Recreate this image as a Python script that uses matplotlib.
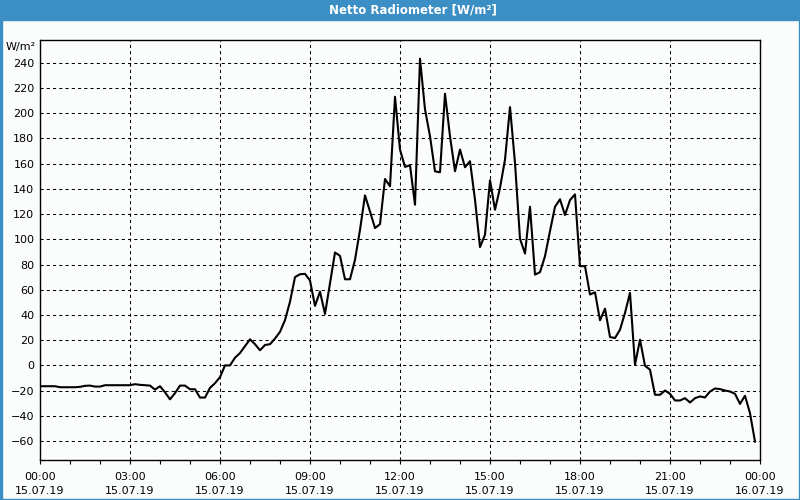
import numpy as np
import pandas as pd
import matplotlib
matplotlib.use("Agg")
import matplotlib.pyplot as plt
import matplotlib.dates as mdates
from matplotlib.patches import Rectangle

# Messwerte alle 10 Minuten, 15.07.2019 00:00 - 23:50
zeiten = pd.date_range("2019-07-15 00:00", periods=144, freq="10min")
werte = [
    -16.5, -16.5, -16.5, -16.5, -17.3, -17.3, -17.3, -17.3, -17.0, -16.2,
    -16.0, -16.8, -16.8, -15.7, -15.7, -15.7, -15.7, -15.7, -15.7, -14.9,
    -15.4, -15.7, -16.0, -19.2, -16.5, -21.3, -26.9, -22.0, -16.0, -16.0,
    -18.9, -18.9, -25.5, -25.5, -17.8, -14.1, -9.3, 0.0, 0.0, 6.1,
    9.8, 15.2, 20.7, 16.8, 12.0, 16.2, 16.8, 21.3, 26.6, 35.9,
    50.5, 70.0, 72.3, 72.6, 67.3, 47.2, 58.5, 40.8, 65.0, 89.5,
    86.9, 68.3, 68.3, 83.7, 107.5, 134.8, 122.0, 108.9, 112.0, 147.8,
    142.0, 213.0, 171.1, 157.4, 158.7, 127.4, 243.2, 203.0, 181.7, 153.9,
    153.1, 215.4, 181.7, 153.9, 171.1, 157.1, 161.9, 131.4, 93.8, 103.6,
    146.8, 123.4, 140.7, 163.2, 204.8, 160.5, 100.4, 88.7, 125.8, 72.0,
    73.9, 86.6, 106.5, 125.8, 131.7, 119.2, 131.1, 135.6, 78.7, 78.7,
    56.2, 58.0, 35.8, 45.0, 22.5, 21.7, 28.3, 41.6, 57.5, 0.5,
    20.4, -0.3, -3.4, -23.3, -23.3, -19.9, -22.5, -27.8, -27.8, -26.0,
    -29.4, -26.0, -24.6, -25.4, -20.7, -18.3, -18.8, -19.9, -20.7, -22.5,
    -30.5, -24.1, -37.9, -60.4,
]
y_ticks = list(range(-60, 241, 20))
titel = "Netto Radiometer [W/m²]"
einheit = "W/m²"

plt.rcParams['font.family'] = ['DejaVu Sans']
hintergrund = '#fafdfc'
blau = '#3b8fc4'

fig = plt.figure(figsize=(8, 5), dpi=100, facecolor=hintergrund)
ax = fig.add_axes([0.05, 0.08, 0.9, 0.84])
ax.set_facecolor(hintergrund)

ax.plot(zeiten, werte, color='black', linewidth=1.5)

ax.set_xlim(pd.Timestamp("2019-07-15 00:00"), pd.Timestamp("2019-07-16 00:00"))
ax.set_ylim(-75, 258)
ax.set_yticks(y_ticks)

ax.xaxis.set_major_locator(mdates.HourLocator(byhour=range(0, 24, 3)))
ax.xaxis.set_minor_locator(mdates.HourLocator())
ax.xaxis.set_major_formatter(mdates.DateFormatter("%H:%M\n%d.%m.%y"))

ax.tick_params(axis='x', which='both', length=3, width=0.8, direction='out', pad=6, labelsize=8)
ax.tick_params(axis='y', length=0, pad=4, labelsize=8)
for lab in ax.get_xticklabels():
    lab.set_linespacing(1.5)

ax.grid(True, which='major', color='black', linestyle=(0, (3, 3)), linewidth=0.75)
for s in ax.spines.values():
    s.set_linewidth(1)
    s.set_color('black')

# Titelleiste und Rahmen
fig.patches.append(Rectangle((0, 0.96), 1, 0.04, transform=fig.transFigure, color=blau, zorder=0))
fig.patches.append(Rectangle((0, 0), 0.0025, 1, transform=fig.transFigure, color=blau, zorder=0))
fig.patches.append(Rectangle((0.99875, 0), 0.00125, 1, transform=fig.transFigure, color=blau, zorder=0))
fig.patches.append(Rectangle((0, 0), 1, 0.002, transform=fig.transFigure, color=blau, zorder=0))
fig.text(0.516, 0.98, titel, color='white', fontsize=8.5, fontweight='bold', ha='center', va='center')
fig.text(0.045, 1 - 47 / 500, einheit, fontsize=8, ha='right', va='center')

fig.savefig("out.png", dpi=100, facecolor=hintergrund)
